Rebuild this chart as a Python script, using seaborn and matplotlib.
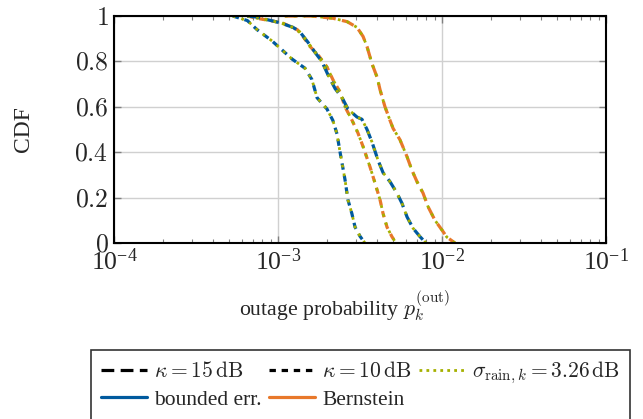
import numpy as np
import pandas as pd
import seaborn as sns
from matplotlib import pyplot as plt
from matplotlib.lines import Line2D
from matplotlib.ticker import LogLocator, FixedLocator, FuncFormatter, NullFormatter

# Data
# bounded err., kappa = 10 dB
p_bnd_10 = [5.3e-4, 6.5e-4, 7.45e-4, 9.2e-4, 1.06e-3, 1.22e-3, 1.46e-3, 1.61e-3, 1.73e-3,
            1.99e-3, 2.16e-3, 2.29e-3, 2.39e-3, 2.56e-3, 2.67e-3, 2.82e-3, 2.95e-3, 3.16e-3, 3.39e-3]
cdf_bnd_10 = [1.0, 0.98, 0.94, 0.89, 0.85, 0.81, 0.77, 0.72, 0.64,
              0.59, 0.54, 0.48, 0.40, 0.28, 0.19, 0.13, 0.07, 0.03, 0.0]

# Bernstein, kappa = 10 dB
p_ber_10 = [6.5e-4, 7.45e-4, 8.9e-4, 1.06e-3, 1.31e-3, 1.42e-3, 1.57e-3, 1.75e-3, 1.99e-3,
            2.16e-3, 2.39e-3, 2.56e-3, 2.83e-3, 3.07e-3, 3.30e-3, 3.64e-3, 3.90e-3, 4.19e-3,
            4.37e-3, 4.62e-3, 4.95e-3, 5.24e-3]
cdf_ber_10 = [1.0, 0.99, 0.98, 0.97, 0.94, 0.91, 0.865, 0.83, 0.775,
              0.72, 0.665, 0.60, 0.54, 0.485, 0.425, 0.335, 0.265, 0.19,
              0.13, 0.07, 0.028, 0.0]

# bounded err., kappa = 15 dB
p_bnd_15 = [6.5e-4, 7.45e-4, 1.03e-3, 1.235e-3, 1.36e-3, 1.52e-3, 1.68e-3, 1.85e-3, 2.02e-3,
            2.23e-3, 2.46e-3, 2.67e-3, 3.03e-3, 3.25e-3, 3.49e-3, 3.74e-3, 4.07e-3, 4.37e-3,
            4.82e-3, 5.31e-3, 5.70e-3, 6.12e-3, 6.66e-3, 7.34e-3, 7.99e-3]
cdf_bnd_15 = [1.0, 0.995, 0.97, 0.95, 0.93, 0.885, 0.84, 0.80, 0.74,
              0.68, 0.64, 0.59, 0.555, 0.545, 0.50, 0.445, 0.365, 0.31,
              0.27, 0.22, 0.175, 0.115, 0.065, 0.028, 0.0]

# Bernstein, kappa = 15 dB
p_ber_15 = [1.1e-3, 1.6e-3, 2.165e-3, 2.64e-3, 3.03e-3, 3.30e-3, 3.49e-3, 3.74e-3, 4.02e-3,
            4.19e-3, 4.49e-3, 4.82e-3, 5.03e-3, 5.54e-3, 6.12e-3, 6.56e-3, 7.04e-3, 7.66e-3,
            8.22e-3, 9.06e-3, 1.0e-2, 1.07e-2, 1.2e-2]
cdf_ber_15 = [1.0, 1.0, 0.99, 0.975, 0.95, 0.91, 0.865, 0.79, 0.73,
              0.675, 0.60, 0.54, 0.505, 0.455, 0.38, 0.32, 0.27, 0.22,
              0.16, 0.10, 0.057, 0.026, 0.0]

curves = [
    ('bounded err.', '10', p_bnd_10, cdf_bnd_10),
    ('Bernstein', '10', p_ber_10, cdf_ber_10),
    ('bounded err.', '15', p_bnd_15, cdf_bnd_15),
    ('Bernstein', '15', p_ber_15, cdf_ber_15),
]

colors = {'bounded err.': '#005a9e', 'Bernstein': '#e8782a'}
olive = '#a5b000'
dash_style = {'15': (4, 2), '10': (2, 1.8)}

sns.set_style('ticks')
plt.rcParams['font.family'] = ['Liberation Serif', 'DejaVu Serif']
plt.rcParams['mathtext.fontset'] = 'cm'

fig = plt.figure(figsize=(6.43, 4.19), dpi=100)
ax = fig.add_axes([0.1773, 0.42, 0.7652, 0.5418])

for method, kappa, p, cdf in curves:
    df = pd.DataFrame({'p': p, 'cdf': cdf})
    sns.lineplot(data=df, x='p', y='cdf', sort=False, estimator=None,
                 color=colors[method], linewidth=2.3, ax=ax)
    ax.lines[-1].set_dashes(dash_style[kappa])
    # sigma_rain overlay (coincides with the curves)
    sns.lineplot(data=df, x='p', y='cdf', sort=False, estimator=None,
                 color=olive, linewidth=2.0, ax=ax)
    ax.lines[-1].set_dashes((1, 2.2))

ax.set_xscale('log')
ax.set_xlim(1e-4, 1e-1)
ax.set_ylim(0, 1)
ax.xaxis.set_major_locator(LogLocator(base=10, numticks=10))
ax.xaxis.set_minor_locator(LogLocator(base=10, subs=np.arange(2, 10), numticks=10))
ax.xaxis.set_minor_formatter(NullFormatter())
ax.yaxis.set_major_locator(FixedLocator([0, 0.2, 0.4, 0.6, 0.8, 1.0]))
ax.yaxis.set_major_formatter(FuncFormatter(lambda v, pos: '$%g$' % round(v, 1)))

ax.grid(True, which='major', color='#d0d0d0', linewidth=1.0)
ax.tick_params(which='both', direction='in', top=True, right=True, labelsize=18.5, color='#808080')
ax.tick_params(which='major', length=5, width=1.0, pad=4)
ax.tick_params(which='minor', length=3, width=0.8)
for s in ax.spines.values():
    s.set_linewidth(1.5)
    s.set_color('black')

ax.set_xlabel(r'outage probability $p_k^{(\mathrm{out})}$', fontsize=15.7)
ax.xaxis.set_label_coords((345 - 114) / 492, -0.2)
ax.set_ylabel('CDF', fontsize=17)
ax.yaxis.set_label_coords((34 - 114) / 492, 0.5)

handles = [
    Line2D([], [], color='black', linewidth=2.3, dashes=dash_style['15']),
    Line2D([], [], color=colors['bounded err.'], linewidth=2.3),
    Line2D([], [], color='black', linewidth=2.3, dashes=dash_style['10']),
    Line2D([], [], color=colors['Bernstein'], linewidth=2.3),
    Line2D([], [], color=olive, linewidth=2.0, dashes=(1, 1.5)),
]
labels = [r'$\kappa = 15\,\mathrm{dB}$', 'bounded err.', r'$\kappa = 10\,\mathrm{dB}$',
          'Bernstein', r'$\sigma_{\mathrm{rain},k} = 3.26\,\mathrm{dB}$']
leg = fig.legend(handles, labels, ncol=3, loc='upper left',
                 bbox_to_anchor=(91 / 643, 1 - 350 / 419),
                 fontsize=15.5, frameon=True, fancybox=False, edgecolor='black',
                 handlelength=2.15, handletextpad=0.33, columnspacing=0.33, borderaxespad=0.0,
                 borderpad=0.45, labelspacing=0.35)
leg.get_frame().set_linewidth(1.2)

fig.savefig('out.png', dpi=100)
